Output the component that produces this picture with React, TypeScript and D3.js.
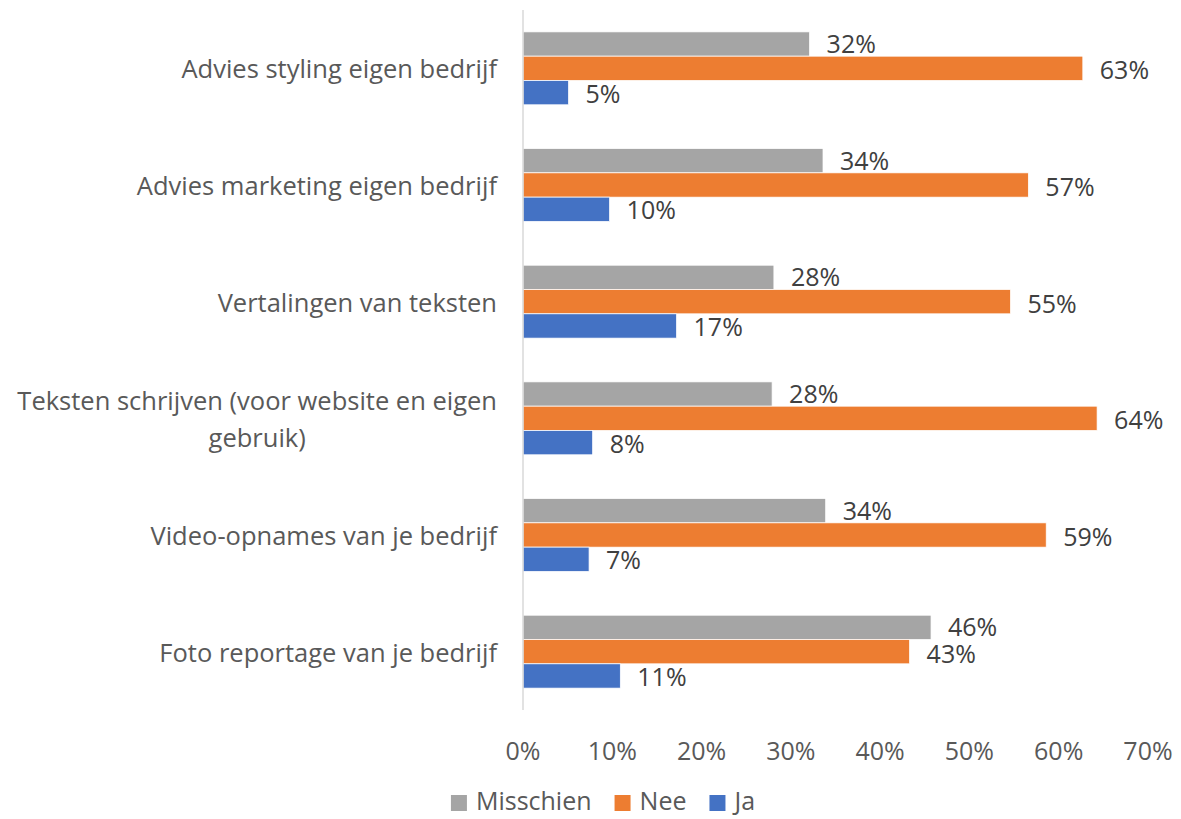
import React, { useRef, useEffect } from 'react';
import * as d3 from 'd3';

const categories = [
  ['Advies styling eigen bedrijf'],
  ['Advies marketing eigen bedrijf'],
  ['Vertalingen van teksten'],
  ['Teksten schrijven (voor website en eigen', 'gebruik)'],
  ['Video-opnames van je bedrijf'],
  ['Foto reportage van je bedrijf'],
];
const seriesNames = ['Misschien', 'Nee', 'Ja'];
const misschien = [32.1, 33.6, 28.1, 27.9, 33.9, 45.7];
const nee = [62.7, 56.6, 54.6, 64.3, 58.6, 43.3];
const ja = [5.1, 9.7, 17.2, 7.8, 7.4, 10.9];
const ticks = [0, 10, 20, 30, 40, 50, 60, 70];
const colors = ['#A5A5A5', '#ED7D31', '#4472C4'];

const App = () => {
  const ref = useRef<SVGSVGElement>(null);

  useEffect(() => {
    document.body.style.margin = '0';
    const width = 1181;
    const height = 819;
    const font = '"Open Sans", sans-serif';
    const textColor = '#595959';

    const svg = d3.select(ref.current);
    svg.selectAll('*').remove();
    svg.attr('width', width).attr('height', height);

    const values = [misschien, nee, ja];
    const idx = d3.range(categories.length);

    const x = d3.scaleLinear().domain([0, 70]).range([523, 1148]);
    const y = d3.scaleBand<number>()
      .domain(idx)
      .range([10, 710])
      .paddingInner(0.375)
      .paddingOuter(0.1875);
    const ys = d3.scaleBand<number>()
      .domain([0, 1, 2])
      .range([0, y.bandwidth()]);

    // bars + data labels
    seriesNames.forEach((name, s) => {
      const g = svg.append('g');
      g.selectAll('rect')
        .data(idx)
        .join('rect')
        .attr('x', x(0))
        .attr('y', i => y(i)! + ys(s)!)
        .attr('width', i => x(values[s][i]) - x(0))
        .attr('height', ys.bandwidth())
        .attr('fill', colors[s])
        .attr('stroke', '#fff')
        .attr('stroke-width', 0.75);
      g.selectAll('text')
        .data(idx)
        .join('text')
        .attr('x', i => x(values[s][i]) + 17)
        .attr('y', i => y(i)! + ys(s)! + ys.bandwidth() / 2 + (s === 0 ? -1 : s === 1 ? 1 : 0))
        .attr('dominant-baseline', 'central')
        .attr('font-family', font)
        .attr('font-size', 25)
        .attr('fill', '#404040')
        .text(i => Math.round(values[s][i]) + '%');
    });

    // vertical axis line
    svg.append('line')
      .attr('x1', x(0)).attr('x2', x(0))
      .attr('y1', 10).attr('y2', 710)
      .attr('stroke', '#d9d9d9')
      .attr('stroke-width', 1.5);

    // category labels: block right-aligned, lines centered
    idx.forEach(i => {
      const lines = categories[i];
      const g = svg.append('g');
      const texts = lines.map((l, k) =>
        g.append('text')
          .attr('font-family', font)
          .attr('font-size', 25.5)
          .attr('fill', textColor)
          .attr('text-anchor', 'middle')
          .attr('dominant-baseline', 'central')
          .attr('y', y(i)! + y.bandwidth() / 2 + (k - (lines.length - 1) / 2) * 37)
          .text(l));
      const w = d3.max(texts, t => (t.node() as SVGTextElement).getComputedTextLength()) || 0;
      texts.forEach(t => t.attr('x', 497 - w / 2));
    });

    // x tick labels
    svg.append('g')
      .selectAll('text')
      .data(ticks)
      .join('text')
      .attr('x', d => x(d))
      .attr('y', 750)
      .attr('text-anchor', 'middle')
      .attr('dominant-baseline', 'central')
      .attr('font-family', font)
      .attr('font-size', 25)
      .attr('fill', textColor)
      .text(d => d + '%');

    // legend
    const leg = svg.append('g');
    let cx = 0;
    seriesNames.forEach((name, s) => {
      leg.append('rect')
        .attr('x', cx).attr('y', 795)
        .attr('width', 16).attr('height', 16)
        .attr('fill', colors[s]);
      const t = leg.append('text')
        .attr('x', cx + 25)
        .attr('y', 810)
        .attr('font-family', font)
        .attr('font-size', 25)
        .attr('fill', textColor)
        .text(name);
      cx += 25 + (t.node() as SVGTextElement).getComputedTextLength() + 23;
    });
    const legW = cx - 23;
    leg.attr('transform', `translate(${603 - legW / 2},0)`);
  }, []);

  return <svg ref={ref}></svg>;
};

export default App;
